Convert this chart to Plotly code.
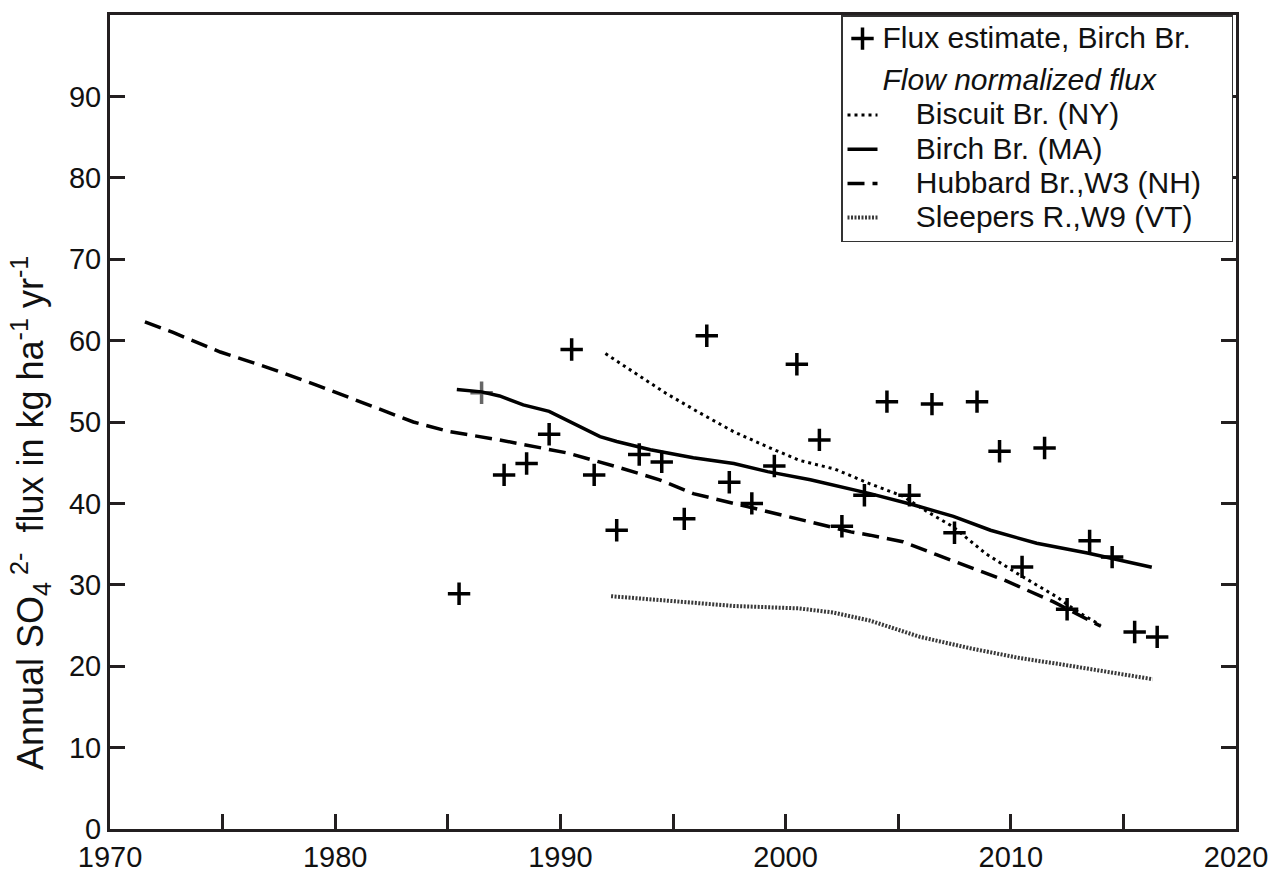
import plotly.graph_objects as go

# Annual flux estimates, Birch Br. (water-year midpoints)
flux_years = [1985.5, 1986.5, 1987.5, 1988.5, 1989.5, 1990.5, 1991.5, 1992.5, 1993.5, 1994.5,
              1995.5, 1996.5, 1997.5, 1998.5, 1999.5, 2000.5, 2001.5, 2002.5, 2003.5, 2004.5,
              2005.5, 2006.5, 2007.5, 2008.5, 2009.5, 2010.5, 2011.5, 2012.5, 2013.5, 2014.5,
              2015.5, 2016.5]
flux_values = [28.9, 53.6, 43.5, 44.9, 48.5, 58.9, 43.5, 36.7, 46.0, 45.1,
               38.1, 60.6, 42.6, 40.0, 44.6, 57.1, 47.8, 37.2, 41.0, 52.5,
               41.0, 52.2, 36.4, 52.5, 46.4, 32.2, 46.8, 27.0, 35.4, 33.4,
               24.2, 23.6]
flux_colors = ["#000000", "#666666"] + ["#000000"] * 30

# Flow normalized flux
biscuit_years = [1992.0, 1993.2, 1994.7, 1996.2, 1997.7, 1999.15, 2000.6, 2002.2, 2003.75,
                 2005.2, 2006.1, 2007.45, 2008.9, 2010.4, 2012.05, 2012.9, 2013.96]
biscuit_values = [58.4, 56.2, 53.5, 51.1, 48.8, 47.0, 45.3, 44.2, 42.4,
                  40.9, 39.3, 37.1, 33.8, 31.2, 28.5, 26.8, 25.1]

birch_years = [1985.4, 1986.5, 1987.3, 1988.35, 1989.5, 1990.7, 1991.76, 1992.5, 1994.0,
               1995.9, 1997.7, 1999.2, 2001.1, 2003.75, 2005.7, 2007.45, 2009.1, 2011.15,
               2013.4, 2016.26]
birch_values = [54.0, 53.7, 53.2, 52.1, 51.3, 49.6, 48.2, 47.6, 46.6,
                45.6, 44.9, 43.9, 42.9, 41.2, 39.8, 38.4, 36.7, 35.1,
                33.9, 32.15]

hubbard_years = [1971.55, 1972.8, 1974.9, 1977.1, 1979.2, 1981.25, 1983.47, 1985.1, 1987.3,
                 1990.3, 1992.5, 1994.4, 1995.9, 1998.3, 2000.6, 2002.9, 2003.75, 2005.2,
                 2006.7, 2009.7, 2011.9, 2014.0]
hubbard_values = [62.3, 61.0, 58.6, 56.6, 54.5, 52.3, 50.0, 48.8, 47.8,
                  46.2, 44.5, 42.9, 41.2, 39.6, 38.0, 36.5, 36.1, 35.3,
                  33.7, 30.6, 27.9, 24.9]

sleepers_years = [1992.25, 1994.7, 1997.7, 2000.6, 2002.1, 2003.75, 2005.97, 2008.2,
                  2010.4, 2012.3, 2014.2, 2016.3]
sleepers_values = [28.6, 28.1, 27.4, 27.1, 26.6, 25.6, 23.6, 22.2,
                   21.0, 20.2, 19.4, 18.4]

x_tickvals = [1970, 1980, 1990, 2000, 2010, 2020]
y_tickvals = [0, 10, 20, 30, 40, 50, 60, 70, 80, 90]

FONT = "Arial, Liberation Sans, sans-serif"
AXC = "#231f20"
NB = "&nbsp;"


def lg(text, lead=0, trail=0, italic=False):
    t = f"<i>{text}</i>" if italic else text
    return f'<span style="font-size:30px">{NB * lead}{t}{NB * trail}</span>'


fig = go.Figure()

fig.add_trace(go.Scatter(
    x=flux_years, y=flux_values, mode="markers",
    name=lg("Flux estimate, Birch Br."), legendgroup="a",
    marker=dict(symbol="cross-thin", size=16, color=flux_colors,
                line=dict(width=3.5, color=flux_colors)),
))
fig.add_trace(go.Scatter(
    x=[None], y=[None], mode="lines", legendgroup="b",
    name=lg("Flow normalized flux", italic=True),
    line=dict(width=0, color="rgba(0,0,0,0)"),
))
fig.add_trace(go.Scatter(
    x=biscuit_years, y=biscuit_values, mode="lines", legendgroup="b",
    name=lg("Biscuit Br. (NY)", lead=4),
    line=dict(color="#000000", width=3, dash="3px,4px"),
))
fig.add_trace(go.Scatter(
    x=birch_years, y=birch_values, mode="lines", legendgroup="b",
    name=lg("Birch Br. (MA)", lead=4),
    line=dict(color="#000000", width=3.5),
))
fig.add_trace(go.Scatter(
    x=hubbard_years, y=hubbard_values, mode="lines", legendgroup="b",
    name=lg("Hubbard Br.,W3 (NH)", lead=4, trail=3),
    line=dict(color="#000000", width=3.5, dash="17px,8px"),
))
fig.add_trace(go.Scatter(
    x=sleepers_years, y=sleepers_values, mode="lines", legendgroup="b",
    name=lg("Sleepers R.,W9 (VT)", lead=4),
    line=dict(color="#3a3a3a", width=4, dash="2px,1.5px"),
))

fig.update_layout(
    width=1270, height=874,
    margin=dict(l=110, r=34, t=15, b=45),
    paper_bgcolor="white", plot_bgcolor="white",
    font=dict(family=FONT, color="#111111", size=28),
    showlegend=True,
    legend=dict(
        x=(1233 - 110) / 1126, xanchor="right", y=1.0, yanchor="top",
        bordercolor="#333333", borderwidth=1.5, bgcolor="white",
        font=dict(family=FONT, size=24, color="#111111"),
        traceorder="grouped", tracegroupgap=8, itemwidth=30,
    ),
    xaxis=dict(
        range=[1970, 2020], tickvals=x_tickvals, automargin=False,
        ticks="inside", ticklen=15, tickwidth=3, tickcolor=AXC,
        showline=True, linewidth=3, linecolor=AXC, mirror=True,
        showgrid=False, zeroline=False, ticklabelstandoff=0,
        tickfont=dict(size=29, family=FONT, color="#111111"),
        minor=dict(dtick=5, tick0=1970, ticks="inside", ticklen=15, tickwidth=3,
                   tickcolor=AXC, showgrid=False),
    ),
    yaxis=dict(
        range=[0, 100], tickvals=y_tickvals, automargin=False,
        ticks="inside", ticklen=15, tickwidth=3, tickcolor=AXC,
        showline=True, linewidth=3, linecolor=AXC, mirror="ticks",
        showgrid=False, zeroline=False,
        tickfont=dict(size=29, family=FONT, color="#111111"),
    ),
    annotations=[dict(
        text="Annual SO<sub>4</sub><sup> 2-</sup>  flux in kg ha<sup>-1</sup> yr<sup>-1</sup>",
        xref="paper", yref="paper", x=-0.0705, y=0.3876,
        xanchor="center", yanchor="middle", textangle=-90, showarrow=False,
        font=dict(family=FONT, size=36, color="#111111"),
    )],
)

fig.write_html("out.html")
